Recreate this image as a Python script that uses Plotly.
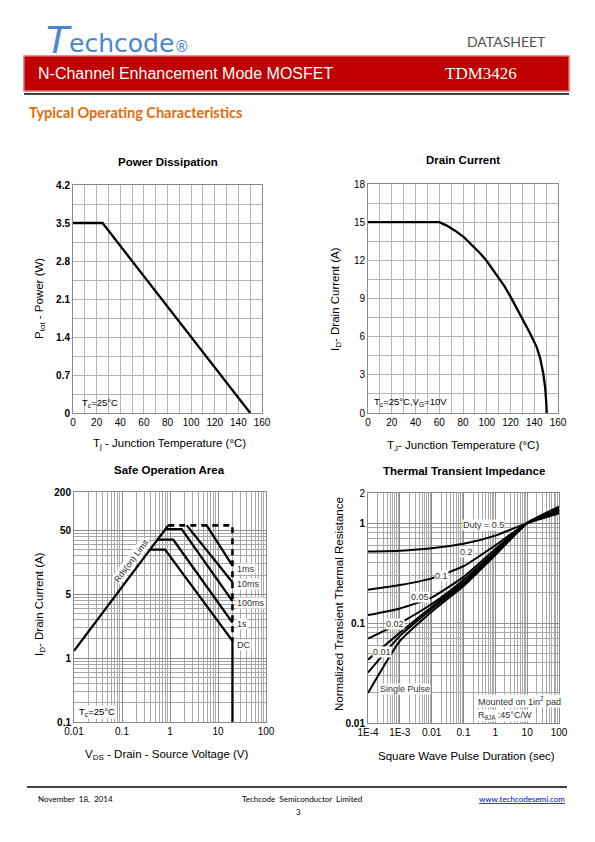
import math
import plotly.graph_objects as go

W, H = 595, 842
def px(x): return x / W
def py(y): return 1 - y / H

# ---------------- data ----------------
# Power dissipation
pd_temp = [0, 25, 150]
pd_power = [3.5, 3.5, 0]
pd_xticks = [0, 20, 40, 60, 80, 100, 120, 140, 160]
pd_yticks = [0, 0.7, 1.4, 2.1, 2.8, 3.5, 4.2]

# Drain current
id_temp = [0, 60, 66, 73, 81, 89, 95, 100, 105, 110, 115, 120, 125, 131, 136, 142, 145, 147.6, 149.2, 150.0, 150.5]
id_current = [15, 15, 14.75, 14.35, 13.8, 13.1, 12.5, 11.95, 11.3, 10.65, 9.95, 9.15, 8.3, 7.3, 6.35, 5.2, 4.3, 3.1, 2.0, 1.0, 0]
id_xticks = [0, 20, 40, 60, 80, 100, 120, 140, 160]
id_yticks = [0, 3, 6, 9, 12, 15, 18]

# Safe operation area
soa_rds_v = [0.01, 0.92]
soa_rds_i = [0.65, 60]
soa_dc_v = [0.38, 0.79, 20, 20]
soa_dc_i = [25, 25, 0.93, 0.05]
soa_1s_v = [0.55, 1.17, 20]
soa_1s_i = [35.8, 35.8, 1.8]
soa_100ms_v = [0.81, 1.75, 20]
soa_100ms_i = [52.6, 52.6, 3.9]
soa_10ms_v = [2.23, 20]
soa_10ms_i = [60, 7.7]
soa_1ms_v = [5.8, 20]
soa_1ms_i = [60, 14.1]
soa_lim_v = [0.92, 20, 20]
soa_lim_i = [60, 60, 0.93]
soa_xticks = [0.01, 0.1, 1, 10, 100]
soa_yticks = [0.05, 0.5, 5, 50, 200]
soa_ylabels = ["0.1", "1", "5", "50", "200"]

# Thermal transient impedance
tt_t = [1e-4, 1e-3, 1e-2, 1e-1, 1, 10, 100]
tt_d05 = [0.52, 0.53, 0.56, 0.62, 0.75, 1.0, 1.25]
tt_d02 = [0.215, 0.24, 0.28, 0.37, 0.6, 1.0, 1.3]
tt_d01 = [0.12, 0.14, 0.18, 0.29, 0.55, 1.0, 1.35]
tt_d005 = [0.07, 0.1, 0.155, 0.27, 0.52, 1.0, 1.38]
tt_d002 = [0.043, 0.08, 0.145, 0.255, 0.5, 1.0, 1.41]
tt_d001 = [0.032, 0.074, 0.138, 0.245, 0.49, 1.0, 1.43]
tt_single = [0.02, 0.066, 0.13, 0.235, 0.48, 1.0, 1.46]
tt_xticks = [1e-4, 1e-3, 1e-2, 1e-1, 1, 10, 100]
tt_xlabels = ["1E-4", "1E-3", "0.01", "0.1", "1", "10", "100"]
tt_yticks = [0.01, 0.1, 1, 2]
tt_ylabels = ["<b>0.01</b>", "<b>0.1</b>", "<b>1</b>", "2"]

# ---------------- figure ----------------
fig = go.Figure()
LINE = dict(color="black", width=2.3)

fig.add_trace(go.Scatter(x=pd_temp, y=pd_power, mode="lines", line=LINE, xaxis="x", yaxis="y"))
fig.add_trace(go.Scatter(x=id_temp, y=id_current, mode="lines", line=LINE, xaxis="x2", yaxis="y2"))

for v, i in [(soa_rds_v, soa_rds_i), (soa_dc_v, soa_dc_i), (soa_1s_v, soa_1s_i),
             (soa_100ms_v, soa_100ms_i), (soa_10ms_v, soa_10ms_i), (soa_1ms_v, soa_1ms_i)]:
    fig.add_trace(go.Scatter(x=v, y=i, mode="lines", line=LINE, xaxis="x3", yaxis="y3"))
fig.add_trace(go.Scatter(x=soa_lim_v, y=soa_lim_i, mode="lines",
                         line=dict(color="black", width=2.6, dash="6px,5px"), xaxis="x3", yaxis="y3"))

for z in [tt_d05, tt_d02, tt_d01, tt_d005, tt_d002, tt_d001, tt_single]:
    fig.add_trace(go.Scatter(x=tt_t, y=z, mode="lines",
                             line=dict(color="black", width=2.0, shape="spline", smoothing=0.5),
                             xaxis="x4", yaxis="y4"))

GRID = "#b4b4b4"
FRAME = "#8a8a8a"
TICKFONT = dict(family="Liberation Sans, Arial", size=10, color="black")

def lin_axis(domain, anchor, rng, ticks, dtick_minor, bold=False):
    return dict(domain=domain, anchor=anchor, range=rng, tickmode="array", tickvals=ticks,
                ticktext=([f"<b>{t:g}</b>" for t in ticks] if bold else [f"{t:g}" for t in ticks]),
                showgrid=True, gridcolor=GRID, gridwidth=1,
                minor=dict(dtick=dtick_minor, showgrid=True, gridcolor=GRID, gridwidth=1),
                showline=True, linecolor=FRAME, linewidth=1, mirror=True, ticks="",
                zeroline=False, tickfont=TICKFONT, fixedrange=True, automargin=False)

def log_minor(lo_exp, hi_exp, lo=None, hi=None, base=1.0):
    vals = []
    for e in range(lo_exp, hi_exp + 1):
        for k in range(2, 10):
            v = base * k * 10 ** e
            if (lo is None or v > lo * 1.0001) and (hi is None or v < hi * 0.9999):
                vals.append(v)
    return vals

def log_axis(domain, anchor, lo, hi, ticks, labels, minor_vals, gridcolor="#a8a8a8"):
    return dict(domain=domain, anchor=anchor, type="log", range=[math.log10(lo), math.log10(hi)],
                tickmode="array", tickvals=ticks, ticktext=labels,
                showgrid=True, gridcolor="#8c8c8c", gridwidth=1,
                minor=dict(tickmode="array", tickvals=minor_vals, showgrid=True, gridcolor=gridcolor,
                           gridwidth=1, ticks=""),
                showline=True, linecolor=FRAME, linewidth=1, mirror=True, ticks="",
                zeroline=False, tickfont=TICKFONT, fixedrange=True, automargin=False)

# domains from pixel positions
d1x = [px(73), px(262)]; d1y = [py(413), py(185)]
d2x = [px(368), px(558)]; d2y = [py(413), py(184)]
d3x = [px(74), px(266)]; d3y = [py(722), py(492)]
d4x = [px(368), px(559)]; d4y = [py(723), py(493)]

fig.update_layout(
    width=W, height=H, autosize=False, margin=dict(l=0, r=0, t=0, b=0, autoexpand=False),
    paper_bgcolor="white", plot_bgcolor="white", showlegend=False,
    font=dict(family="Liberation Sans, Arial", color="black"),
    xaxis=lin_axis(d1x, "y", [0, 160], pd_xticks, 10),
    yaxis=lin_axis(d1y, "x", [0, 4.2], pd_yticks, 0.35, bold=True),
    xaxis2=lin_axis(d2x, "y2", [0, 160], id_xticks, 10),
    yaxis2=lin_axis(d2y, "x2", [0, 18], id_yticks, 1.5),
    xaxis3=log_axis(d3x, "y3", 0.01, 100, soa_xticks, [f"{t:g}" for t in soa_xticks],
                    log_minor(-2, 1)),
    yaxis3=log_axis(d3y, "x3", 0.05, 200, soa_yticks, [f"<b>{s}</b>" for s in soa_ylabels],
                    log_minor(-2, 1, lo=0.05, hi=200, base=0.5)),
    xaxis4=log_axis(d4x, "y4", 1e-4, 100, tt_xticks, tt_xlabels, log_minor(-4, 1)),
    yaxis4=log_axis(d4y, "x4", 0.01, 2, tt_yticks, tt_ylabels, log_minor(-2, 0, hi=2)),
)

ann = []
def text(x, y, s, size=10, bold=False, color="black", xanchor="center", angle=0,
         family="Liberation Sans, Arial", bg=None, yanchor="middle"):
    d = dict(x=px(x), y=py(y), xref="paper", yref="paper", text=(f"<b>{s}</b>" if bold else s),
             showarrow=False, xanchor=xanchor, yanchor=yanchor, textangle=angle,
             font=dict(size=size, color=color, family=family))
    if bg:
        d.update(bgcolor=bg, borderpad=0)
    ann.append(d)

# Header
text(44, 40, "<i>T</i>", size=38, color="#4a86d2", xanchor="left", family="DejaVu Sans")
text(67, 44, "echcode<span style='font-size:15px'>®</span>", size=25, color="#4a86d2",
     xanchor="left", family="DejaVu Sans")
text(548, 41, "DATASHEET", size=14, color="#505050", xanchor="right", family="Lato")
text(36, 74, "N-Channel Enhancement Mode MOSFET", size=16, color="white", xanchor="left")
text(519, 74, "TDM3426", size=17, color="white", xanchor="right", family="Liberation Serif")
text(27, 112, "Typical Operating Characteristics", size=14.5, bold=True, color="#e36c0a",
     xanchor="left", family="Lato")

# Chart titles
text(168, 162, "Power Dissipation", size=11.5, bold=True)
text(463, 160, "Drain Current", size=11.5, bold=True)
text(169, 470, "Safe Operation Area", size=11.5, bold=True)
text(464, 471, "Thermal Transient Impedance", size=11.5, bold=True)

# Axis titles
text(169, 444, "T<sub>j</sub> - Junction Temperature (°C)", size=11.5)
text(40, 299, "P<sub>tot</sub> - Power (W)", size=11.5, angle=-90)
text(463, 446, "T<sub>J</sub>- Junction Temperature (°C)", size=11.5)
text(336, 299, "I<sub>D</sub>- Drain Current (A)", size=11.5, angle=-90)
text(166, 755, "V<sub>DS</sub> - Drain - Source Voltage (V)", size=11.5)
text(40, 604, "I<sub>D</sub>- Drain Current (A)", size=11.5, angle=-90)
text(466, 756, "Square Wave Pulse Duration (sec)", size=11.5)
text(339, 604, "Normalized Transient Thermal Resistance", size=11.5, angle=-90)

# In-plot notes
text(80, 403, "T<sub>c</sub>=25°C", size=9.5, xanchor="left")
text(372, 402, "T<sub>c</sub>=25°C,V<sub>G</sub>=10V", size=9.5, xanchor="left")
text(78, 712, "T<sub>c</sub>=25°C", size=9.5, xanchor="left", bg="white")
text(131, 561, "Rds(on) Limit", size=8.5, angle=-53, bg="white", color="#222")
for lab, yy in [("1ms", 569), ("10ms", 584), ("100ms", 603), ("1s", 624), ("DC", 645)]:
    text(236, yy, lab, size=9, xanchor="left", bg="white", color="#333")

for lab, xx, yy in [("Duty = 0.5", 483, 525), ("0.2", 466, 552), ("0.1", 441, 576),
                    ("0.05", 420, 597), ("0.02", 395, 624), ("0.01", 382, 652)]:
    text(xx, yy, lab, size=9, bg="white", color="#333")
text(405, 689, "Single Pulse", size=9, bg="white", color="#333")
text(477, 701, "Mounted on 1in<sup>2</sup> pad", size=9, xanchor="left", bg="white", color="#333")
text(477, 715, "R<sub>θJA</sub> :45°C/W", size=9, xanchor="left", bg="white", color="#333")

# Footer
text(36, 799, "November  18,  2014", size=8, xanchor="left", family="Lato")
text(302, 799, "Techcode  Semiconductor  Limited", size=8, family="Lato")
text(298, 812, "3", size=8, family="Lato")
text(567, 799, "<u>www.techcodesemi.com</u>", size=8, xanchor="right", color="#0000ee", family="Lato")

fig.update_layout(annotations=ann)

fig.update_layout(shapes=[
    dict(type="rect", xref="paper", yref="paper", x0=px(24), x1=px(569), y0=py(91), y1=py(56),
         fillcolor="#c00000", line=dict(color="#e07070", width=1.5), layer="below"),
    dict(type="line", xref="paper", yref="paper", x0=px(24), x1=px(569), y0=py(94), y1=py(94),
         line=dict(color="black", width=1.5)),
    dict(type="line", xref="paper", yref="paper", x0=px(27), x1=px(567), y0=py(787), y1=py(787),
         line=dict(color="black", width=1.5)),
])

fig.write_html("out.html", config={"displayModeBar": False, "staticPlot": True},
               post_script="document.body.style.margin='0';document.body.style.overflow='hidden';")
